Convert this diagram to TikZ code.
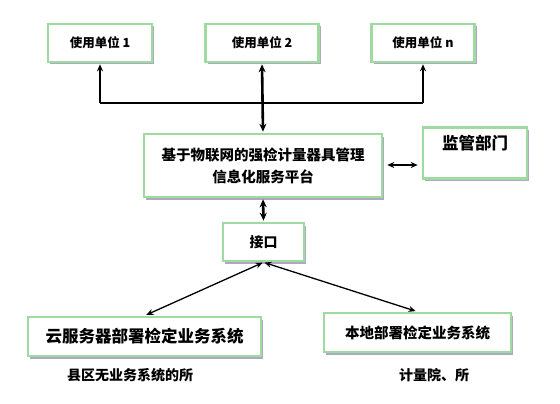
\documentclass[tikz,border=0pt]{standalone}
\usepackage{fontspec}
\newfontfamily\cjk{Noto Sans CJK SC}
\usetikzlibrary{arrows.meta,shadows}
\definecolor{boxgreen}{RGB}{160,218,160}
\definecolor{shadowgray}{RGB}{150,150,175}
\begin{document}
\begin{tikzpicture}[x=1pt,y=-1pt,
  box/.style={draw=boxgreen, line width=2.6pt, fill=white, rectangle, inner sep=0pt,
     align=center, font=\cjk\bfseries,
     drop shadow={shadow xshift=2pt, shadow yshift=-2.5pt, fill=shadowgray, opacity=0.8}},
  conn/.style={line width=1.3pt, -{Stealth[length=7pt,width=6pt]}},
  bconn/.style={line width=1.3pt, {Stealth[length=7pt,width=6pt]}-{Stealth[length=7pt,width=6pt]}},
  thickconn/.style={line width=2.6pt, {Stealth[length=8pt,width=7pt]}-{Stealth[length=8pt,width=7pt]}},
  lab/.style={font=\cjk\bfseries\fontsize{14pt}{16pt}\selectfont}
]
\useasboundingbox (0,0) rectangle (560,404);
\fill[white] (0,0) rectangle (560,404);

\node[box, minimum width=104pt, minimum height=38pt, font=\cjk\bfseries\fontsize{12.5pt}{14pt}\selectfont] (u1) at (100,43) {使用单位 1};
\node[box, minimum width=113pt, minimum height=38pt, font=\cjk\bfseries\fontsize{12.5pt}{14pt}\selectfont] (u2) at (262,43) {使用单位 2};
\node[box, minimum width=103pt, minimum height=38pt, font=\cjk\bfseries\fontsize{12.5pt}{14pt}\selectfont] (un) at (423,43) {使用单位 n};

\node[box, minimum width=238pt, minimum height=63pt, font=\cjk\bfseries\fontsize{14.5pt}{22pt}\selectfont] (plat) at (263,165.5) {基于物联网的强检计量器具管理\\信息化服务平台};
\node[box, minimum width=104pt, minimum height=51pt, font=\cjk\bfseries\fontsize{16.5pt}{18pt}\selectfont, anchor=north, text depth=29pt] (jg) at (475,126) {\rule{0pt}{22pt}监管部门};

\node[box, minimum width=81pt, minimum height=38pt, font=\cjk\bfseries\fontsize{14pt}{16pt}\selectfont] (jk) at (263.5,242) {接口};

\node[box, minimum width=233pt, minimum height=39pt, font=\cjk\bfseries\fontsize{16.5pt}{18pt}\selectfont] (cloud) at (144.5,336.5) {云服务器部署检定业务系统};
\node[box, minimum width=187pt, minimum height=39pt, font=\cjk\bfseries\fontsize{14.5pt}{16pt}\selectfont] (local) at (417.5,332.5) {本地部署检定业务系统};

\node[lab] (l1) at (130,375) {县区无业务系统的所};
\node[lab] (l2) at (434,375) {计量院、所};

\coordinate (hub) at (plat.north |- 0,103);
\draw[thickconn, shorten >=1pt, shorten <=1pt] (plat.north) -- (u2.south);
\draw[line width=1.3pt] (u1.south |- hub) -- (un.south |- hub);
\draw[conn, shorten >=1pt] (u1.south |- hub) -- (u1.south);
\draw[conn, shorten >=1pt] (un.south |- hub) -- (un.south);

\draw[bconn, shorten <=4pt, shorten >=4pt] (plat.east |- 0,165) -- (jg.west |- 0,165);
\draw[thickconn, shorten <=1pt, shorten >=1pt] (plat.south) -- (jk.north);

\draw[bconn, shorten <=1pt, shorten >=2pt] (jk.south) -- (cloud.north);
\draw[bconn, shorten <=1pt, shorten >=2pt] (jk.south) -- (local.north);
\end{tikzpicture}
\end{document}
